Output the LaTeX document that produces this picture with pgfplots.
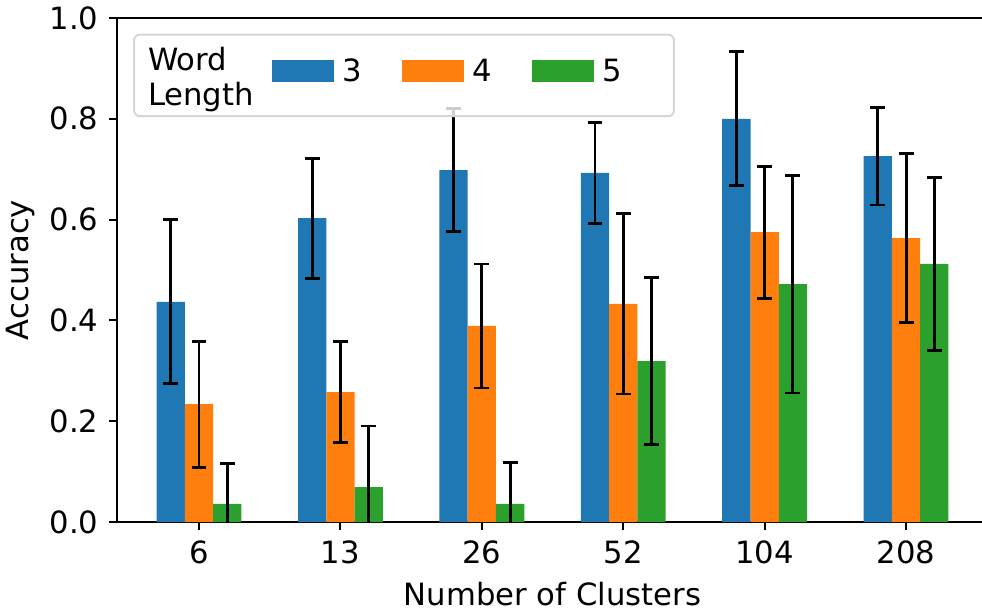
\documentclass[border=0pt]{standalone}
\usepackage{fontspec}
\setmainfont{DejaVu Sans}
\usepackage{pgfplots}
\pgfplotsset{compat=1.18}
\definecolor{c3}{HTML}{1F77B4}
\definecolor{c4}{HTML}{FF7F0E}
\definecolor{c5}{HTML}{2CA02C}
\pgfplotstableread{
x y e
0 0.437 0.163
1 0.603 0.119
2 0.698 0.122
3 0.6925 0.101
4 0.800 0.133
5 0.726 0.097
}\dataA
\pgfplotstableread{
x y e
0 0.234 0.125
1 0.258 0.100
2 0.389 0.123
3 0.433 0.179
4 0.575 0.131
5 0.5635 0.168
}\dataB
\pgfplotstableread{
x y e
0 0.036 0.081
1 0.0695 0.121
2 0.036 0.082
3 0.3195 0.165
4 0.472 0.216
5 0.512 0.172
}\dataC
\begin{document}
\fontsize{23}{26.25}\selectfont
\begin{tikzpicture}
\begin{axis}[
  scale only axis, width=653.25pt, height=378pt,
  xmin=-0.58, xmax=5.58, ymin=0, ymax=1,
  ybar, bar width=0.2,
  xtick={0,1,2,3,4,5}, xticklabels={6,13,26,52,104,208},
  ytick={0,0.2,0.4,0.6,0.8,1},
  yticklabel style={/pgf/number format/.cd, fixed, fixed zerofill, precision=1},
  /pgf/number format/assume math mode=true,
  tick align=outside, xtick pos=bottom, ytick pos=left,
  major tick length=6pt,
  every tick/.style={black, line width=1.5pt},
  axis line style={line width=1.5pt},
  xlabel={Number of Clusters}, ylabel={Accuracy},
  xlabel style={yshift=2pt},
  ylabel shift=-4.5pt,
  legend columns=4,
  legend style={at={(0.0184,0.969)}, anchor=north west,
    draw=black!16, line width=1.5pt, rounded corners=4.5pt,
    fill=white, fill opacity=0.8, text opacity=1, draw opacity=1,
    inner xsep=0pt, inner ysep=4.5pt, nodes={inner sep=0pt},
    cells={anchor=base west},
    /tikz/column 1/.style={column sep=0pt},
    /tikz/column 2/.style={column sep=13.5pt},
    /tikz/column 3/.style={column sep=6.4pt},
    /tikz/column 4/.style={column sep=30pt},
    /tikz/column 5/.style={column sep=6.4pt},
    /tikz/column 6/.style={column sep=30pt},
    /tikz/column 7/.style={column sep=6.4pt},
    /tikz/column 8/.style={column sep=0pt}},
  error bars/error bar style={line width=2.2pt, black},
  error bars/error mark options={rotate=90, mark size=5.6pt, line width=2.2pt, black},
]
\addlegendimage{empty legend}
\addlegendentry{\hspace*{10.5pt}\raisebox{0pt}[48.75pt][0pt]{\begin{tabular}[b]{@{}l@{}}Word\\Length\end{tabular}}}
\addplot[fill=c3, draw=none, bar shift=-0.2,
  legend image code/.code={\fill[c3, fill opacity=1, sharp corners] (0pt,18pt) rectangle (46.5pt,34.5pt);},
  error bars/.cd, y dir=both, y explicit]
  table[x=x, y=y, y error=e] {\dataA};
\addlegendentry{\raisebox{18pt}{3}}
\addplot[fill=c4, draw=none, bar shift=0,
  legend image code/.code={\fill[c4, fill opacity=1, sharp corners] (0pt,18pt) rectangle (46.5pt,34.5pt);},
  error bars/.cd, y dir=both, y explicit]
  table[x=x, y=y, y error=e] {\dataB};
\addlegendentry{\raisebox{18pt}{4}}
\addplot[fill=c5, draw=none, bar shift=0.2,
  legend image code/.code={\fill[c5, fill opacity=1, sharp corners] (0pt,18pt) rectangle (46.5pt,34.5pt);},
  error bars/.cd, y dir=both, y explicit]
  table[x=x, y=y, y error=e] {\dataC};
\addlegendentry{\raisebox{18pt}{5}\hspace*{39pt}}
\coordinate (bl) at (axis cs:-1.4074,-0.1766);
\coordinate (tr) at (axis cs:5.537,1.0357);
\end{axis}
\pgfresetboundingbox
\path[use as bounding box] (bl) rectangle (tr);
\end{tikzpicture}
\end{document}
